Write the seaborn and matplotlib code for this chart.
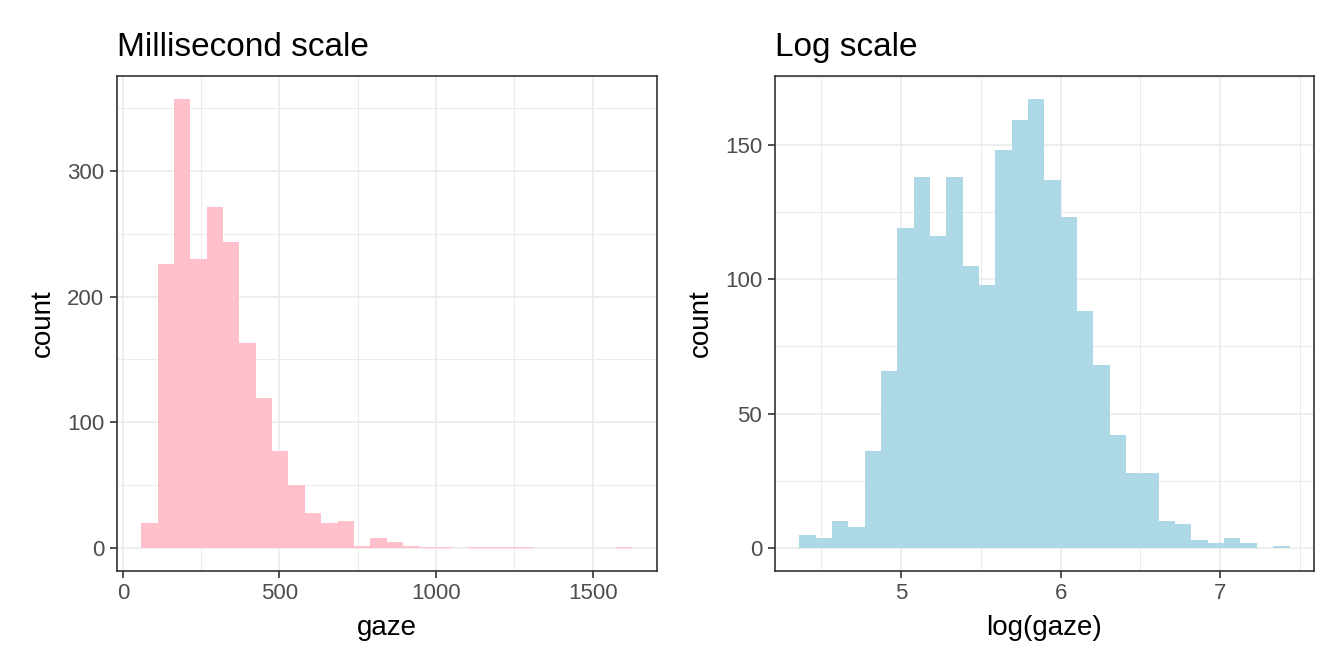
import numpy as np
import pandas as pd
import matplotlib
matplotlib.use("Agg")
import matplotlib.pyplot as plt
from matplotlib.ticker import MultipleLocator
import seaborn as sns

# bin counts (30 bins in each panel)
ms_counts = [20, 226, 357, 230, 271, 243, 163, 119, 77, 50,
             28, 20, 22, 2, 8, 5, 2, 1, 1, 0,
             1, 1, 1, 1, 0, 0, 0, 0, 0, 1]
ms_start = 58.5      # left edge of first bin (ms)
ms_width = 52.25     # bin width (ms)

log_counts = [5, 4, 10, 8, 36, 66, 119, 138, 116, 138,
              105, 98, 148, 159, 167, 137, 123, 88, 68, 42,
              28, 28, 10, 9, 3, 2, 4, 2, 0, 1]
log_start = 4.364
log_width = 0.1023

ms_xticks = [0, 500, 1000, 1500]
ms_yticks = [0, 100, 200, 300]
log_xticks = [5, 6, 7]
log_yticks = [0, 50, 100, 150]

sns.set_theme(style="white")
plt.rcParams["font.family"] = ["Liberation Sans", "DejaVu Sans"]

fig = plt.figure(figsize=(13.44, 6.72), dpi=100)


def draw_hist(ax, counts, start, width, color, title, xlabel, xticks, yticks, xminor, yminor):
    counts = np.array(counts, dtype=float)
    edges = start + width * np.arange(len(counts) + 1)
    df = pd.DataFrame({"x": (edges[:-1] + edges[1:]) / 2, "n": counts})
    ax.set_axisbelow(True)
    sns.histplot(data=df, x="x", weights="n", bins=list(edges), ax=ax,
                 color=color, alpha=1, linewidth=0)
    span = edges[-1] - edges[0]
    ax.set_xlim(edges[0] - 0.05 * span, edges[-1] + 0.05 * span)
    top = counts.max()
    ax.set_ylim(-0.05 * top, 1.05 * top)
    ax.set_xticks(xticks)
    ax.set_yticks(yticks)
    ax.xaxis.set_minor_locator(MultipleLocator(xminor))
    ax.yaxis.set_minor_locator(MultipleLocator(yminor))
    ax.grid(which="major", color="#EBEBEB", linewidth=1.2)
    ax.grid(which="minor", color="#EBEBEB", linewidth=0.7)
    for s in ax.spines.values():
        s.set_color("#333333")
        s.set_linewidth(1.2)
    ax.tick_params(which="major", length=5, width=1.2, color="#333333",
                   labelcolor="#4D4D4D", labelsize=16, pad=4,
                   bottom=True, left=True)
    ax.tick_params(which="minor", length=0)
    ax.set_xlabel(xlabel, fontsize=20, color="black", labelpad=8)
    ax.set_ylabel("count", fontsize=20, color="black", labelpad=8)
    ax.set_title(title, loc="left", fontsize=24, pad=15, color="black")


ax1 = fig.add_axes([0.0868, 0.1507, 0.4018, 0.7355])
draw_hist(ax1, ms_counts, ms_start, ms_width, "pink", "Millisecond scale", "gaze",
          ms_xticks, ms_yticks, 250, 50)

ax2 = fig.add_axes([0.5764, 0.1507, 0.4013, 0.7355])
draw_hist(ax2, log_counts, log_start, log_width, "lightblue", "Log scale", "log(gaze)",
          log_xticks, log_yticks, 0.5, 25)

fig.savefig("out.png", dpi=100)
